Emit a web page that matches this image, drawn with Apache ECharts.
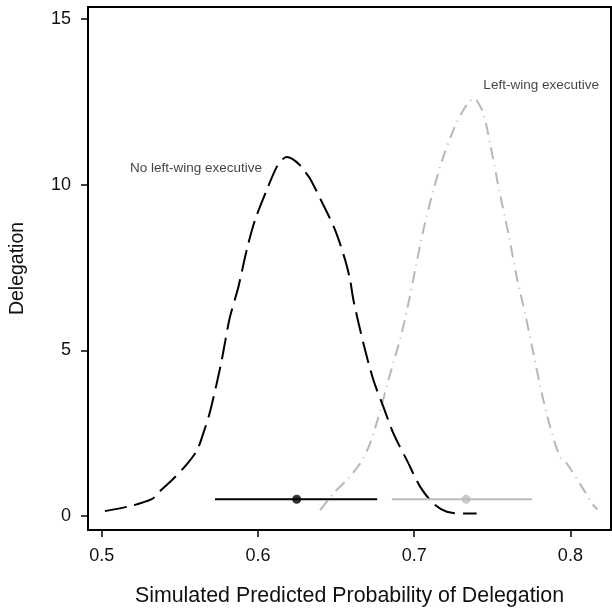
<!DOCTYPE html>
<html>
<head>
<meta charset="utf-8">
<script src="https://cdn.jsdelivr.net/npm/echarts@6/dist/echarts.min.js"></script>
<style>html,body{margin:0;padding:0;background:#fff}#c{width:612px;height:608px}</style>
</head>
<body>
<div id="c"></div>
<script>
// Density of simulated predicted probability: no left-wing executive
const noLeftX = [0.502, 0.518, 0.532, 0.537, 0.545, 0.554, 0.561, 0.565, 0.569, 0.5736, 0.5768, 0.579, 0.5821, 0.5875, 0.5928, 0.5981, 0.6056, 0.612, 0.6155, 0.6184, 0.622, 0.6269, 0.6302, 0.6333, 0.6408, 0.6494, 0.6558, 0.659, 0.6611, 0.6675, 0.6739, 0.6803, 0.6867, 0.6953, 0.7038, 0.7123, 0.7209, 0.7326, 0.740];
const noLeftY = [0.14, 0.29, 0.50, 0.73, 1.08, 1.53, 1.98, 2.49, 3.09, 4.00, 4.70, 5.26, 6.01, 6.92, 8.03, 8.93, 9.84, 10.54, 10.76, 10.84, 10.78, 10.59, 10.39, 10.19, 9.49, 8.63, 7.73, 7.12, 6.52, 5.21, 4.10, 3.29, 2.49, 1.68, 0.88, 0.37, 0.12, 0.07, 0.07];
// Density: left-wing executive
const leftX = [0.6397, 0.6494, 0.6568, 0.6654, 0.6718, 0.6771, 0.6835, 0.6878, 0.692, 0.6963, 0.7006, 0.7059, 0.7123, 0.7187, 0.7251, 0.7315, 0.7355, 0.739, 0.7411, 0.7443, 0.7486, 0.755, 0.7603, 0.7657, 0.771, 0.7763, 0.7817, 0.787, 0.7934, 0.7977, 0.8073, 0.8147, 0.8175];
const leftY = [0.17, 0.73, 1.08, 1.58, 2.19, 2.99, 4.10, 4.80, 5.51, 6.42, 7.42, 8.63, 9.84, 10.85, 11.65, 12.26, 12.52, 12.60, 12.46, 12.16, 11.25, 9.70, 8.53, 7.20, 6.11, 4.91, 3.70, 2.69, 1.78, 1.58, 0.88, 0.32, 0.19];
// Point estimates and intervals (drawn at y = 0.5)
const intervalY = 0.5;
const noLeftCI = [0.5725, 0.6248, 0.6763]; // lo, estimate, hi
const leftCI = [0.6857, 0.7332, 0.7755];
// Tick labels
const xTicks = [0.5, 0.6, 0.7, 0.8];
const yTicks = [0, 5, 10, 15];
// Annotations
const annoTexts = ['No left-wing executive', 'Left-wing executive'];
const annoX = [0.6026, 0.7443];
const annoY = [10.5, 13.0];

const zip = (xs, ys) => xs.map((x, i) => [x, ys[i]]);
const font = 'Liberation Sans, Arial, Helvetica, sans-serif';

const chart = echarts.init(document.getElementById('c'), null, {renderer: 'canvas'});
chart.setOption({
  animation: false,
  backgroundColor: '#fff',
  grid: {left: 88, top: 7, right: 1, bottom: 78, show: true, borderColor: '#000', borderWidth: 2, backgroundColor: 'transparent', containLabel: false, outerBoundsMode: 'none'},
  xAxis: {
    type: 'value', min: 0.4912, max: 0.826,
    name: 'Simulated Predicted Probability of Delegation', nameLocation: 'middle', nameGap: 56, nameMoveOverlap: false,
    nameTextStyle: {fontFamily: font, fontSize: 21.4, color: '#111'},
    axisLine: {show: false, onZero: false},
    splitLine: {show: false},
    axisTick: {show: true, length: 7, inside: false, customValues: xTicks, lineStyle: {color: '#000', width: 1.5}},
    axisLabel: {customValues: xTicks, margin: 17, fontFamily: font, fontSize: 18, color: '#111', formatter: v => v.toFixed(1)}
  },
  yAxis: {
    type: 'value', min: -0.43, max: 15.37,
    name: 'Delegation', nameLocation: 'middle', nameGap: 60, nameRotate: 90, nameMoveOverlap: false,
    nameTextStyle: {fontFamily: font, fontSize: 19.5, color: '#111'},
    axisLine: {show: false, onZero: false},
    splitLine: {show: false},
    axisTick: {show: true, length: 7, inside: false, customValues: yTicks, lineStyle: {color: '#000', width: 1.5}},
    axisLabel: {customValues: yTicks, margin: 17, fontFamily: font, fontSize: 18, color: '#111', formatter: v => String(Math.round(v))}
  },
  series: [
    {
      type: 'line', data: zip(noLeftX, noLeftY), smooth: 0.3, showSymbol: false, symbol: 'none',
      lineStyle: {color: '#000', width: 2, type: [22, 8]}, z: 3
    },
    {
      type: 'line', data: zip(leftX, leftY), smooth: 0.3, showSymbol: false, symbol: 'none',
      lineStyle: {color: '#b8b8b8', width: 2, type: [12, 6, 1, 6]}, z: 2
    },
    {
      type: 'line', data: [[noLeftCI[0], intervalY], [noLeftCI[2], intervalY]], showSymbol: false, symbol: 'none',
      lineStyle: {color: '#000', width: 2}, z: 4
    },
    {
      type: 'line', data: [[leftCI[0], intervalY], [leftCI[2], intervalY]], showSymbol: false, symbol: 'none',
      lineStyle: {color: '#bdbdbd', width: 2}, z: 4
    },
    {
      type: 'scatter', data: [[noLeftCI[1], intervalY]], symbol: 'circle', symbolSize: 9,
      itemStyle: {color: '#000'}, z: 5
    },
    {
      type: 'scatter', data: [[leftCI[1], intervalY]], symbol: 'circle', symbolSize: 9,
      itemStyle: {color: '#bdbdbd'}, z: 5
    },
    {
      type: 'scatter', symbolSize: 0, z: 6,
      data: [
        {value: [annoX[0], annoY[0]], label: {show: true, position: 'left', distance: 0, formatter: annoTexts[0], fontFamily: font, fontSize: 13.5, color: '#111'}},
        {value: [annoX[1], annoY[1]], label: {show: true, position: 'right', distance: 0, formatter: annoTexts[1], fontFamily: font, fontSize: 13.5, color: '#111'}}
      ]
    }
  ]
});
</script>
</body>
</html>
